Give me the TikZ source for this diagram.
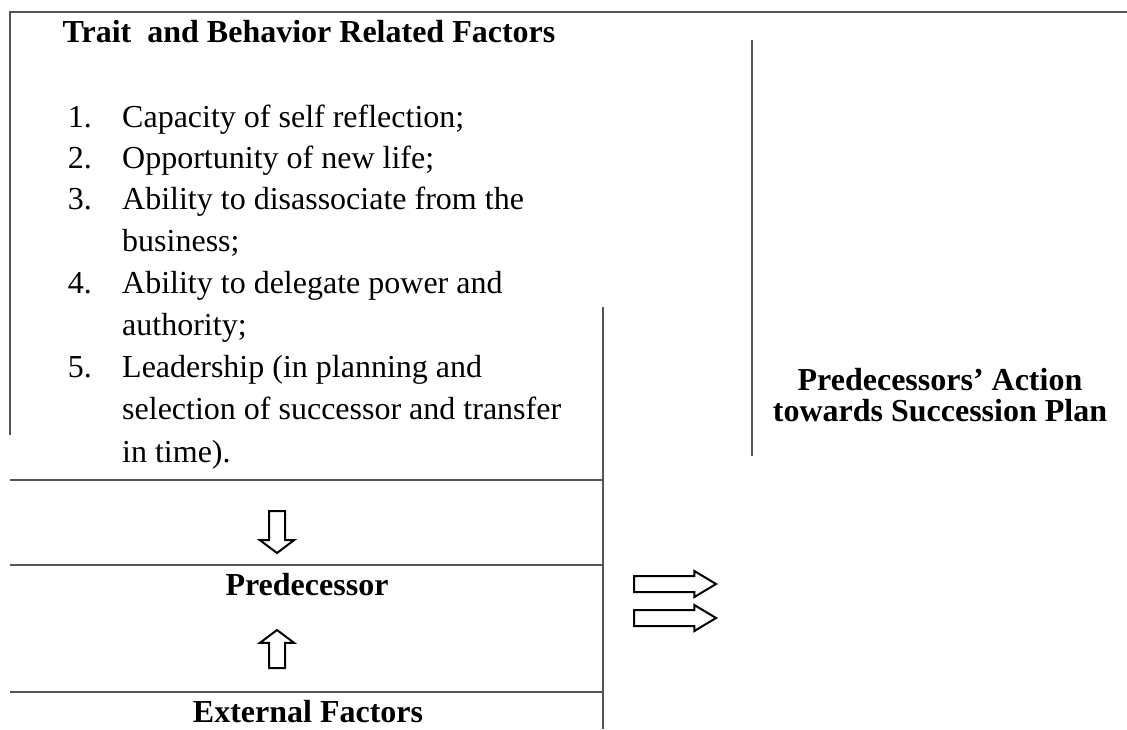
\documentclass[tikz,border=0pt]{standalone}
\usepackage{fontspec}
\setmainfont{Liberation Serif}
\usetikzlibrary{shapes.arrows}
\definecolor{frameGray}{RGB}{85,85,85}

\begin{document}
\begin{tikzpicture}[x=1pt, y=-1pt,
    frameline/.style={frameGray, line width=1.5pt},
    headtext/.style={font=\fontsize{32}{36}\selectfont\bfseries, inner sep=0pt, anchor=base},
    itemnum/.style={font=\fontsize{32}{42}\selectfont, inner sep=0pt, anchor=base east},
    itemtext/.style={font=\fontsize{32}{42}\selectfont, inner sep=0pt, anchor=base west},
    blockarrow/.style={single arrow, draw=black, fill=white, line width=2pt, inner xsep=0pt, single arrow head indent=0pt, anchor=tail}]
    \useasboundingbox (0,0) rectangle (1127,729);

    % frame lines
    \draw[frameline] (10,435) -- (10,12) -- (1127,12);
    \draw[frameline] (752,40) -- (752,456);
    \draw[frameline] (603,307) -- (603,729);
    \draw[frameline] (10,480) -- (603,480);
    \draw[frameline] (10,565) -- (603,565);
    \draw[frameline] (10,692) -- (603,692);

    % trait factors
    \node[headtext] (traits) at (309,42) {Trait\enspace and Behavior Related Factors};
    \node[itemnum] (numone) at (92,127) {1.};
    \node[itemtext] (itemone) at (122,127) {Capacity of self reflection;};
    \node[itemnum] (numtwo) at (92,168) {2.};
    \node[itemtext] (itemtwo) at (122,168) {Opportunity of new life;};
    \node[itemnum] (numthree) at (92,209) {3.};
    \node[itemtext] (itemthree) at (122,209) {Ability to disassociate from the};
    \node[itemtext] (itemthreeb) at (122,251) {business;};
    \node[itemnum] (numfour) at (92,293) {4.};
    \node[itemtext] (itemfour) at (122,293) {Ability to delegate power and};
    \node[itemtext] (itemfourb) at (122,335) {authority;};
    \node[itemnum] (numfive) at (92,377) {5.};
    \node[itemtext] (itemfive) at (122,377) {Leadership (in planning and};
    \node[itemtext] (itemfiveb) at (122,419) {selection of successor and transfer};
    \node[itemtext] (itemfivec) at (122,462) {in time).};

    % predecessor and external factors
    \node[blockarrow, rotate=-90, minimum height=42pt, inner ysep=7pt, single arrow head extend=9pt, single arrow tip angle=106] (downarr) at (277,510) {};
    \node[headtext] (pred) at (307,595) {Predecessor};
    \node[blockarrow, rotate=90, minimum height=38pt, inner ysep=7pt, single arrow head extend=9pt, single arrow tip angle=106] (uparr) at (277,669) {};
    \node[headtext] (external) at (308,722) {External Factors};

    % action
    \node[blockarrow, minimum height=82pt, inner ysep=7pt, single arrow head extend=5pt, single arrow tip angle=62] (rightone) at (633,584) {};
    \node[blockarrow, minimum height=82pt, inner ysep=7pt, single arrow head extend=5pt, single arrow tip angle=62] (righttwo) at (633,618) {};
    \node[headtext] (actionone) at (940,390) {Predecessors’ Action};
    \node[headtext] (actiontwo) at (940,421) {towards Succession Plan};
\end{tikzpicture}
\end{document}
